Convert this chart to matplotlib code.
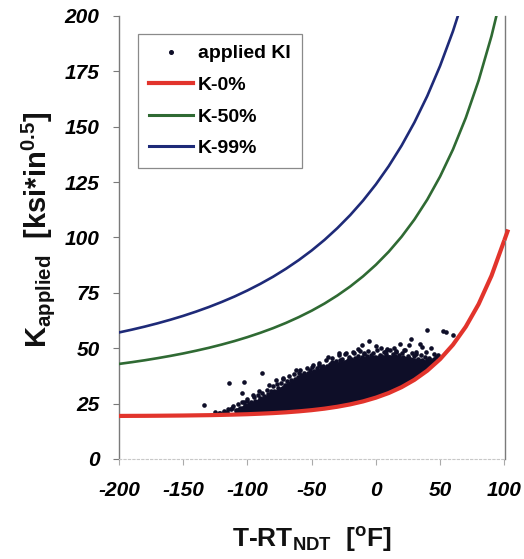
import matplotlib
matplotlib.use('Agg')
import matplotlib.pyplot as plt
from matplotlib.lines import Line2D

plt.rcParams['font.family'] = ['Liberation Sans', 'DejaVu Sans']
plt.rcParams['mathtext.fontset'] = 'custom'
plt.rcParams['mathtext.rm'] = 'Liberation Sans:bold'
plt.rcParams['mathtext.bf'] = 'Liberation Sans:bold'
plt.rcParams['mathtext.it'] = 'Liberation Sans:bold:italic'

# ---------------- data ----------------
curve_T = [-200, -190, -180, -170, -160, -150, -140, -130, -120, -110, -100,
           -90, -80, -70, -60, -50, -40, -30, -20, -10, 0,
           10, 20, 30, 40, 50, 60, 70, 80, 90, 100]
K0 = [19.44, 19.47, 19.49, 19.53, 19.58, 19.63, 19.71, 19.79, 19.91, 20.05, 20.22,
      20.45, 20.72, 21.07, 21.51, 22.05, 22.73, 23.59, 24.66, 26.00, 27.69,
      29.79, 32.43, 35.74, 39.88, 45.08, 51.58, 59.73, 69.94, 82.73, 98.75]
K50 = [42.92, 43.71, 44.57, 45.52, 46.54, 47.65, 48.88, 50.20, 51.67, 53.26, 55.02,
       56.96, 59.08, 61.44, 64.06, 66.95, 70.18, 73.82, 77.88, 82.47, 87.67,
       93.58, 100.35, 108.13, 117.11, 127.56, 139.75, 154.05, 170.92, 190.94, 214.79]
K99 = [57.13, 58.39, 59.76, 61.25, 62.87, 64.62, 66.54, 68.62, 70.90, 73.37, 76.09,
       79.06, 82.30, 85.89, 89.82, 94.14, 98.92, 104.23, 110.11, 116.66, 123.99,
       132.22, 141.48, 151.97, 163.88, 177.51, 193.13, 211.17, 232.1, 257.0, 285.0]
K0_end_T = [100, 103]
K0_end = [98.75, 103.6]

# dense core of the applied-KI cloud (solid region)
core_T = [-110, -105, -100, -95, -90, -85, -80, -75, -70, -65, -60, -55, -50, -45,
          -40, -35, -30, -25, -20, -15, -10, -5, 0, 5, 10, 15, 20, 25, 30, 35, 40, 45, 48]
core_lo = [20.9, 20.9, 21.0, 21.1, 21.3, 21.4, 21.5, 21.7, 21.9, 22.1, 22.3, 22.6, 22.9, 23.2,
           23.5, 23.9, 24.4, 24.9, 25.5, 26.1, 26.8, 27.6, 28.6, 29.6, 30.7, 31.9, 33.3, 34.9,
           36.6, 38.6, 40.8, 43.2, 44.8]
core_hi = [22.4, 23.6, 24.8, 26.0, 27.5, 28.8, 30.3, 32.1, 34.0, 35.6, 37.0, 38.4, 39.6, 40.6,
           41.6, 42.6, 43.6, 44.5, 45.0, 45.6, 46.0, 46.3, 46.6, 46.8, 46.8, 46.7, 46.3, 45.9,
           45.4, 44.9, 44.4, 44.2, 44.8]

# individual applied-KI points (ragged fringe of the cloud)
fringe_T = [-121, -118, -116, -113, -111, -109, -107, -106, -104, -102, -100, -99, -97, -95,
            -94, -92, -90, -89, -87, -85, -84, -82, -80, -79, -77, -76, -74, -72, -71, -69,
            -68, -66, -64, -63, -61, -59, -58, -56, -54, -53, -51, -49, -48, -46, -44, -43,
            -41, -39, -38, -36, -34, -33, -31, -29, -28, -26, -24, -22, -21, -19, -17, -16,
            -14, -12, -11, -9, -7, -6, -4, -2, -1, 1, 3, 4, 6, 8, 10, 11, 13, 15, 16, 18,
            20, 21, 23, 25, 26, 28, 30, 31, 33, 35, 36, 38, 40, 41, 43, 45, 47]
fringe_K = [20.9, 21.8, 21.2, 22.6, 23.9, 22.3, 24.8, 23.1, 25.6, 24.2, 26.9, 25.0, 25.8, 27.9,
            26.3, 28.8, 27.4, 29.9, 28.4, 31.2, 29.3, 30.6, 32.8, 30.9, 33.9, 32.2, 34.4, 36.3,
            33.6, 35.2, 37.6, 35.8, 38.4, 36.1, 37.2, 40.1, 37.9, 39.0, 41.3, 38.9, 40.2, 42.6,
            39.8, 41.0, 43.4, 41.6, 42.2, 44.8, 41.9, 43.0, 45.6, 43.3, 44.1, 46.8, 44.5, 45.3,
            47.6, 44.9, 46.1, 45.2, 47.9, 45.8, 46.5, 48.7, 46.0, 47.3, 46.4, 48.9, 46.9, 47.8,
            46.1, 49.2, 47.0, 46.3, 48.3, 47.5, 46.2, 49.0, 47.4, 46.5, 48.6, 46.9, 47.8, 46.0,
            49.3, 46.7, 45.6, 48.0, 46.4, 47.2, 45.3, 46.8, 44.9, 46.2, 44.6, 45.8, 44.5, 45.3,
            46.0]

# isolated outliers of the applied-KI cloud
out_T = [-134, -125, -122, -118, -115, -112, -114, -103, -89, -104, -91, -83, -103, -100,
         -82, -72, -60, -50, -44, -34, -23.5, -18, -10.5, -5, 0, -9, 8, 14, 15.5, 26, 27,
         34, 36, 39, 43, 39.5, 52, 54.7, 60, 31, 22, -29, 4, 9, 48, -62, -78, -96, -37, -14,
         19, 45]
out_K = [24.4, 21.4, 20.8, 21.2, 22.4, 22.9, 34.2, 34.9, 38.7, 29.9, 30.8, 33.4, 25.9, 26.3,
         29.6, 36.4, 38.7, 41.7, 42.4, 43.9, 47.7, 48.2, 51.5, 53.4, 51.0, 47.7, 48.6, 50.0,
         48.4, 51.5, 54.0, 52.0, 50.7, 48.4, 50.0, 58.2, 57.9, 57.5, 56.0, 48.2, 49.4, 47.7,
         50.2, 49.6, 46.8, 40.2, 35.6, 29.0, 46.0, 49.8, 51.8, 47.6]

xticks = [-200, -150, -100, -50, 0, 50, 100]
yticks = [0, 25, 50, 75, 100, 125, 150, 175, 200]

pt_color = '#0e0e28'
red = '#e2342c'
green = '#2f6a33'
blue = '#1e2a78'

# ---------------- figure ----------------
fig = plt.figure(figsize=(5.24, 5.59), dpi=100)
ax = fig.add_axes([0.2271, 0.1789, 0.7366, 0.7925])

ax.fill_between(core_T, core_lo, core_hi, color=pt_color, lw=0.8, edgecolor=pt_color, zorder=2)
ax.scatter(fringe_T, fringe_K, s=11, color=pt_color, linewidths=0, zorder=2)
ax.scatter(out_T, out_K, s=11, color=pt_color, linewidths=0, zorder=2)

ax.plot(curve_T, K0, color=red, lw=3.0, solid_capstyle='butt', zorder=3)
ax.plot(K0_end_T, K0_end, color=red, lw=3.0, solid_capstyle='butt', zorder=3, clip_on=False)
ax.plot(curve_T, K50, color=green, lw=1.9, zorder=3)
ax.plot(curve_T, K99, color=blue, lw=1.9, zorder=3)

ax.set_xlim(-200, 100.5)
ax.set_ylim(0, 200)

ax.spines['top'].set_visible(False)
for s in ['left', 'right']:
    ax.spines[s].set_color('#7a7a7a')
    ax.spines[s].set_linewidth(1.0)
ax.spines['bottom'].set_color('#c8c8c8')
ax.spines['bottom'].set_linewidth(0.8)
ax.spines['bottom'].set_linestyle((0, (2, 2)))

ax.set_xticks(xticks)
ax.set_xticklabels([str(v) for v in xticks], fontsize=15, fontweight='bold', fontstyle='italic')
ax.set_yticks(yticks)
ax.set_yticklabels([str(v) for v in yticks], fontsize=15, fontweight='bold', fontstyle='italic')
ax.tick_params(axis='y', direction='out', length=4, width=0.8, color='#7a7a7a', pad=10)
ax.tick_params(axis='x', direction='out', length=4, width=0.8, color='#aaaaaa', pad=12)

fig.text(38 / 524, 1 - 230 / 559, 'K$_{\\mathbf{applied}}$  [ksi*in$^{\\mathbf{0.5}}$]',
         rotation=90, ha='center', va='center', fontsize=21, fontweight='bold', color='#111111')
fig.text(312 / 524, 1 - 540 / 559, 'T-RT$_{\\mathbf{NDT}}$  [$^{\\mathbf{o}}$F]',
         ha='center', va='center', fontsize=19, fontweight='bold', color='#111111')

handles = [Line2D([], [], marker='o', ls='none', color=pt_color, markersize=2.6),
           Line2D([], [], color=red, lw=3.0),
           Line2D([], [], color=green, lw=2.2),
           Line2D([], [], color=blue, lw=2.2)]
labels = ['applied KI', 'K-0%', 'K-50%', 'K-99%']
leg = ax.legend(handles, labels, loc='upper left', bbox_to_anchor=(0.049, 0.959),
                borderaxespad=0, prop={'weight': 'bold', 'size': 14},
                handlelength=2.3, handletextpad=0.25, labelspacing=0.72, borderpad=0.55,
                fancybox=False, framealpha=1, edgecolor='#8a8a8a')
leg.get_frame().set_linewidth(0.9)

fig.savefig('out.png', dpi=100)
